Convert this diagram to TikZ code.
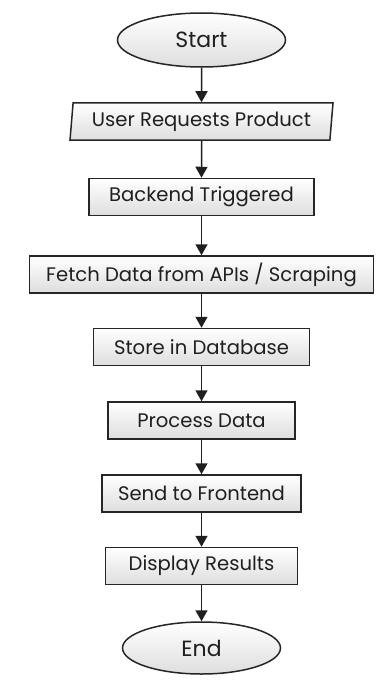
\documentclass[tikz,border=0pt]{standalone}
\usepackage{fontspec}
\setmainfont{Poppins}
\usetikzlibrary{shapes.geometric,arrows.meta}
\begin{document}
\begin{tikzpicture}[x=1pt,y=-1pt,
  shape base/.style={draw=black!85, line width=1.5pt, top color=white, bottom color=black!13,
    text=black!88, inner sep=0pt},
  procbox/.style={shape base, rectangle, minimum height=37pt, font=\fontsize{19.6}{23}\selectfont},
  iobox/.style={shape base, trapezium, trapezium left angle=81, trapezium right angle=99,
    trapezium stretches body=true, minimum height=37pt, font=\fontsize{19.6}{23}\selectfont},
  term/.style={shape base, ellipse, font=\fontsize{22}{26}\selectfont},
  flow/.style={draw=black!88, line width=1.5pt, -{Triangle[width=12pt,length=11pt]}}]
  % canvas
  \fill[white] (0,0) rectangle (391,682);
  \useasboundingbox (0,0) rectangle (391,682);

  % flowchart nodes, top to bottom
  \node[term, minimum width=168pt, minimum height=54pt] (start) at (201.5,40) {Start};
  \node[iobox, minimum width=263pt] (request) at (201.5,121.5) {User Requests Product};
  \node[procbox, minimum width=225pt] (backend) at (201.5,197) {Backend Triggered};
  \node[procbox, minimum width=344pt] (fetch) at (201.5,274.5) {Fetch Data from APIs / Scraping};
  \node[procbox, minimum width=216pt] (store) at (201.5,347) {Store in Database};
  \node[procbox, minimum width=187pt] (process) at (201.5,420.5) {Process Data};
  \node[procbox, minimum width=199pt] (send) at (201.5,493.5) {Send to Frontend};
  \node[procbox, minimum width=192pt] (display) at (201.5,566) {Display Results};
  \node[term, minimum width=158pt, minimum height=52pt] (end) at (201.5,648) {End};

  % connectors
  \draw[flow] (start) -- (request);
  \draw[flow] (request) -- (backend);
  \draw[flow] (backend) -- (fetch);
  \draw[flow] (fetch) -- (store);
  \draw[flow] (store) -- (process);
  \draw[flow] (process) -- (send);
  \draw[flow] (send) -- (display);
  \draw[flow] (display) -- (end);
\end{tikzpicture}
\end{document}
